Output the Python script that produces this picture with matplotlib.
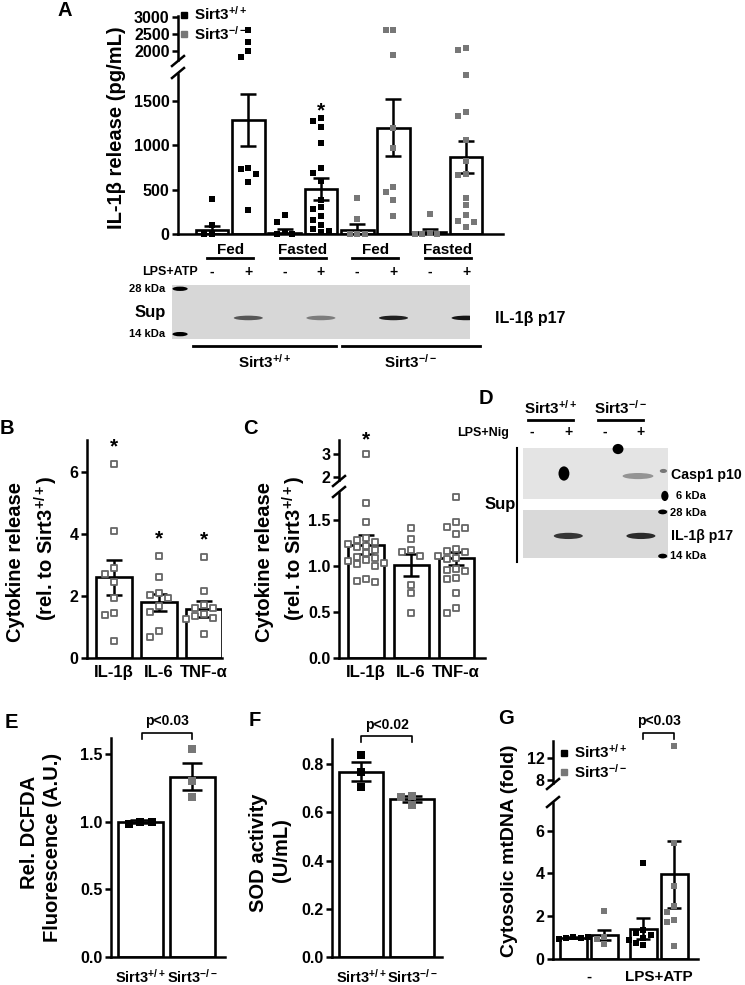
import numpy as np
import matplotlib
matplotlib.use('Agg')
import matplotlib.pyplot as plt
from matplotlib.lines import Line2D
from matplotlib.patches import Ellipse
from matplotlib import transforms

plt.rcParams['font.family'] = ['Liberation Sans', 'DejaVu Sans']
plt.rcParams['font.weight'] = 'bold'
plt.rcParams['axes.labelweight'] = 'bold'
plt.rcParams['mathtext.fontset'] = 'custom'
plt.rcParams['mathtext.rm'] = 'Liberation Sans:bold'
plt.rcParams['mathtext.it'] = 'Liberation Sans:bold'
plt.rcParams['mathtext.bf'] = 'Liberation Sans:bold'
plt.rcParams['mathtext.sf'] = 'Liberation Sans:bold'
plt.rcParams['mathtext.default'] = 'rm'
plt.rcParams['axes.linewidth'] = 1.8

WT = 'Sirt3$^{+/+}$'
KO = 'Sirt3$^{-/-}$'
BLACK = 'black'
GREY = '#777777'

# ---- A: IL-1b release, fed / fasted
a_groups = ['Fed', 'Fasted', 'Fed', 'Fasted']
a_treat = ['-', '+', '-', '+', '-', '+', '-', '+']
a_geno = [WT, WT, WT, WT, KO, KO, KO, KO]
a_mean = [40, 1280, 15, 510, 45, 1195, 25, 865]
a_sem = [45, 290, 40, 125, 67, 320, 28, 180]
a_pts = [
    [390, 100, 0, 0],
    [2600, 2250, 1990, 1820, 740, 735, 675, 590, 265],
    [210, 140, 20, 0, 0],
    [1310, 1270, 1200, 1020, 740, 690, 600, 380, 300, 280, 200, 160, 100, 60, 30, 20],
    [410, 170, 0, 0, 0],
    [2610, 2600, 1890, 1190, 970, 530, 475, 380, 205],
    [220, 10, 0, 0, 0],
    [2080, 2030, 1790, 1370, 1330, 1060, 820, 670, 660, 410, 330, 210, 150, 135, 75],
]
a_band = [0, 0.6, 0, 0.42, 0, 0.85, 0, 0.9]

# ---- B: cytokines, fed
b_cats = ['IL-1β', 'IL-6', 'TNF-α']
b_mean = [2.6, 1.8, 1.58]
b_sem = [0.57, 0.27, 0.25]
b_pts = [
    [6.25, 4.1, 2.89, 2.7, 2.46, 1.93, 1.46, 1.39, 0.56],
    [3.3, 2.62, 2.11, 2.03, 1.95, 1.68, 1.49, 0.88, 0.69],
    [3.25, 2.17, 1.72, 1.62, 1.6, 1.42, 1.35, 1.3, 1.26, 0.77],
]

# ---- C: cytokines, fasted
c_cats = ['IL-1β', 'IL-6', 'TNF-α']
c_mean = [1.23, 1.01, 1.08]
c_sem = [0.1, 0.12, 0.075]
c_pts = [
    [3.0, 1.68, 1.48, 1.3, 1.28, 1.26, 1.24, 1.22, 1.2, 1.17, 1.14, 1.1, 1.08,
     1.06, 1.05, 1.03, 1.02, 1.0, 0.86, 0.84, 0.82],
    [1.41, 1.29, 1.17, 1.15, 1.11, 0.79, 0.71, 0.49],
    [1.75, 1.47, 1.42, 1.41, 1.34, 1.18, 1.16, 1.15, 1.11, 1.09, 1.07, 0.97,
     0.96, 0.94, 0.87, 0.86, 0.7, 0.54, 0.49],
]

# ---- D: western blot lanes
d_treat = ['-', '+', '-', '+']
d_casp1 = [0, 0, 0, 0.35]
d_il1b = [0, 0.75, 0, 0.8]

# ---- E: DCFDA
e_mean = [1.0, 1.335]
e_sem = [0.01, 0.1]
e_pts = [[1.0, 0.985, 1.0], [1.54, 1.3, 1.185]]

# ---- F: SOD activity
f_mean = [0.77, 0.655]
f_sem = [0.04, 0.012]
f_pts = [[0.84, 0.77, 0.705], [0.67, 0.665, 0.63]]

# ---- G: cytosolic mtDNA
g_ticks = ['-', 'LPS+ATP']
g_mean = [1.0, 1.12, 1.42, 3.95]
g_sem = [0.03, 0.22, 0.5, 1.55]
g_pts = [
    [1.05, 1.0, 0.98, 0.95, 1.02],
    [2.25, 1.05, 0.95, 0.72],
    [4.5, 1.35, 1.2, 1.1, 1.0, 0.9, 0.75, 0.65],
    [14.3, 5.4, 3.4, 2.5, 2.2, 1.8, 1.75, 0.6],
]

W, H = 745, 985
TICK = 11.5
YLAB = 14.5
fig = plt.figure(figsize=(W / 100, H / 100), dpi=100)


def fx(x):
    return x / W


def fy(y):
    return 1 - y / H


def px_axes(x0, y0, x1, y1):
    return fig.add_axes([x0 / W, 1 - y1 / H, (x1 - x0) / W, (y1 - y0) / H])


def style(ax, bottom=True):
    ax.spines['top'].set_visible(False)
    ax.spines['right'].set_visible(False)
    ax.spines['bottom'].set_visible(bottom)
    ax.tick_params(axis='y', direction='out', length=4, width=1.8, pad=2, labelsize=TICK)
    ax.tick_params(axis='x', length=0, labelsize=TICK)
    ax.patch.set_alpha(0)
    if not bottom:
        ax.set_xticks([])


def swarm(ypx, step, size=7.0):
    used, offs = [], []
    for y in ypx:
        for k in (0, -1, 1, -2, 2, -3, 3, -4, 4):
            if all(abs(y - u) >= size for u, j in used if j == k):
                break
        used.append((y, k))
        offs.append(k * step)
    return np.array(offs)


def bars(ax, x, mean, sem, width, capsize=6):
    ax.bar(x, mean, width, color='white', edgecolor='black', linewidth=1.9, zorder=2)
    ax.errorbar(x, mean, yerr=sem, fmt='none', ecolor='black', elinewidth=1.8,
                capsize=capsize, capthick=1.8, zorder=3)


def brk(x, y_top, y_bot):
    for y in (y_top + 1, y_bot - 1):
        fig.add_artist(Line2D([fx(x - 6), fx(x + 6)], [fy(y + 5), fy(y - 5)],
                              color='black', lw=1.8))


def bracket(ax, x0, x1, y_line, y_foot, y_text, label):
    tr = transforms.blended_transform_factory(ax.transData, fig.transFigure)
    ax.plot([x0, x0, x1, x1], [fy(y_foot), fy(y_line), fy(y_line), fy(y_foot)],
            color='black', lw=1.2, transform=tr, clip_on=False)
    ax.text((x0 + x1) / 2, fy(y_text), label, transform=tr, ha='center',
            va='center', fontsize=10)


def square_pts(ax, x, vals, color, size=23, hollow=False):
    if hollow:
        ax.scatter(x, vals, marker='s', s=size, facecolor='white', edgecolor=color,
                   linewidths=1.3, zorder=4, clip_on=False)
    else:
        ax.scatter(x, vals, marker='s', s=size, color=color, linewidths=0,
                   zorder=4, clip_on=False)


def legend_at(x, y):
    fig.legend([Line2D([], [], marker='s', ls='none', color=BLACK, markersize=5),
                Line2D([], [], marker='s', ls='none', color=GREY, markersize=5)],
               [WT, KO], loc='upper left', bbox_to_anchor=(fx(x), fy(y)),
               frameon=False, handlelength=0.6, handletextpad=0.35, labelspacing=0.1,
               borderpad=0, borderaxespad=0, fontsize=11)


# ================= Panel A
axA = px_axes(178, 74, 503, 234)
axA_top = px_axes(178, 16, 503, 60)
style(axA)
style(axA_top, bottom=False)
xa = np.arange(len(a_mean))
for ax in (axA, axA_top):
    ax.set_xlim(-0.937, 8.017)
axA.set_ylim(0, 1800)
axA_top.set_ylim(1741, 3020)
axA.set_xticks([])
axA.set_yticks([0, 500, 1000, 1500])
axA_top.set_yticks([2000, 2500, 3000])
bars(axA, xa, a_mean, a_sem, 0.9)
for i, vals in enumerate(a_pts):
    vals = np.array(vals, float)
    ypx = np.where(vals < 1800, vals * 0.0889, 174 + (vals - 1741) * 0.0344)
    off = swarm(ypx, 0.21)
    col = BLACK if a_geno[i] == WT else GREY
    lo = vals < 1800
    square_pts(axA, xa[i] + off[lo], vals[lo], col)
    square_pts(axA_top, xa[i] + off[~lo], vals[~lo], col)
brk(178, 60, 74)
axA.text(3, 1380, '*', ha='center', va='center', fontsize=15)
legend_at(179, 5)

trA = transforms.blended_transform_factory(axA.transData, fig.transFigure)
for g, name in enumerate(a_groups):
    cx = 2 * g + 0.5
    axA.text(cx, fy(250), name, transform=trA, ha='center', va='center', fontsize=11)
    axA.plot([cx - 0.63, cx + 0.63], [fy(258), fy(258)], transform=trA,
             color='black', lw=2, clip_on=False)
for i, t in enumerate(a_treat):
    axA.text(xa[i], fy(272), t, transform=trA, ha='center', va='center', fontsize=10)
fig.text(fx(198), fy(272), 'LPS+ATP', ha='right', va='center', fontsize=9)

# blot under A
blotA = px_axes(172, 285, 470, 339)
blotA.set_xlim((172 - 212) / 36.3, (470 - 212) / 36.3)
blotA.set_ylim(0, 1)
blotA.set_facecolor('#d7d7d7')
blotA.set_xticks([])
blotA.set_yticks([])
for s in blotA.spines.values():
    s.set_visible(False)
for i, v in enumerate(a_band):
    if v > 0:
        blotA.add_patch(Ellipse((xa[i], 0.39), 0.8, 0.085, color='black',
                                alpha=v, lw=0))
for yy in (0.93, 0.09):
    blotA.add_patch(Ellipse((-0.88, yy), 0.42, 0.08, color='black', lw=0, clip_on=False))
fig.text(fx(165), fy(289), '28 kDa', ha='right', va='center', fontsize=8)
fig.text(fx(166), fy(312), 'Sup', ha='right', va='center', fontsize=12)
fig.text(fx(165), fy(334), '14 kDa', ha='right', va='center', fontsize=8)
fig.text(fx(495), fy(318), 'IL-1β p17', ha='left', va='center', fontsize=11.5)
for x0, x1, lab in ((-0.52, 3.42, WT), (3.58, 7.38, KO)):
    axA.plot([x0, x1], [fy(346), fy(346)], transform=trA, color='black', lw=2,
             clip_on=False)
    axA.text((x0 + x1) / 2, fy(362), lab, transform=trA, ha='center', va='center',
             fontsize=11)

fig.text(fx(116), fy(128), 'IL-1β release (pg/mL)', rotation=90, ha='center',
         va='center', fontsize=YLAB)

# ================= Panel B
axB = px_axes(87, 440, 222, 658)
style(axB)
xb = np.arange(len(b_cats))
axB.set_xlim(-0.6, 2.4)
axB.set_ylim(0, 7.03)
axB.set_yticks([0, 2, 4, 6])
bars(axB, xb, b_mean, b_sem, 0.78, capsize=5.5)
for i, vals in enumerate(b_pts):
    off = swarm(np.array(vals) * 31, 0.2, size=7.5)
    square_pts(axB, xb[i] + off, vals, '#666666', size=18, hollow=True)
    axB.text(xb[i], max(vals) + 0.55, '*', ha='center', va='center', fontsize=15)
axB.set_xticks(xb)
axB.set_xticklabels(b_cats, fontsize=12)
axB.tick_params(axis='x', pad=5)
fig.text(fx(16), fy(562), 'Cytokine release', rotation=90, ha='center', va='center',
         fontsize=YLAB)
fig.text(fx(46), fy(548), '(rel. to ' + WT + ')', rotation=90, ha='center',
         va='center', fontsize=YLAB)

# ================= Panel C
axC = px_axes(339, 493, 485, 658)
axC_top = px_axes(339, 440, 485, 480)
style(axC)
style(axC_top, bottom=False)
xc = np.arange(len(c_cats))
for ax in (axC, axC_top):
    ax.set_xlim(-0.6, 2.64)
axC.set_ylim(0, 1.79)
axC_top.set_ylim(1.855, 3.617)
axC.set_yticks([0, 0.5, 1.0, 1.5])
axC.set_yticklabels(['0.0', '0.5', '1.0', '1.5'])
axC_top.set_yticks([2, 3])
bars(axC, xc, c_mean, c_sem, 0.78, capsize=5.5)
for i, vals in enumerate(c_pts):
    vals = np.array(vals)
    lo = vals < 1.8
    off = swarm(np.where(lo, vals * 92, 170 + vals * 22.7), 0.2, size=7.0)
    square_pts(axC, xc[i] + off[lo], vals[lo], '#666666', size=18, hollow=True)
    square_pts(axC_top, xc[i] + off[~lo], vals[~lo], '#666666', size=18, hollow=True)
axC_top.text(0, 3.62, '*', ha='center', va='center', fontsize=15)
brk(339, 480, 493)
axC.set_xticks(xc)
axC.set_xticklabels(c_cats, fontsize=12)
axC.tick_params(axis='x', pad=5)
fig.text(fx(264), fy(562), 'Cytokine release', rotation=90, ha='center', va='center',
         fontsize=YLAB)
fig.text(fx(294), fy(548), '(rel. to ' + WT + ')', rotation=90, ha='center',
         va='center', fontsize=YLAB)

# ================= Panel D (blot)
dl = np.arange(len(d_treat))
d_top = px_axes(523, 448, 668, 499)
d_bot = px_axes(523, 510, 668, 558)
for ax, col in ((d_top, '#e4e4e4'), (d_bot, '#d9d9d9')):
    ax.set_xlim((523 - 532) / 36.3, (668 - 532) / 36.3)
    ax.set_ylim(0, 1)
    ax.set_facecolor(col)
    ax.set_xticks([])
    ax.set_yticks([])
    for s in ax.spines.values():
        s.set_visible(False)
for i in dl:
    if d_casp1[i] > 0:
        d_top.add_patch(Ellipse((dl[i] - 0.08, 0.45), 0.85, 0.12, color='black',
                                alpha=d_casp1[i], lw=0))
    if d_il1b[i] > 0:
        d_bot.add_patch(Ellipse((dl[i], 0.46), 0.8, 0.13, color='black',
                                alpha=d_il1b[i], lw=0))
d_top.add_patch(Ellipse((0.88, 0.5), 0.3, 0.28, color='black', lw=0))
d_top.add_patch(Ellipse((2.37, 0.98), 0.3, 0.2, color='black', lw=0, clip_on=False))
d_top.add_patch(Ellipse((3.66, 0.06), 0.2, 0.2, color='black', lw=0, clip_on=False))
d_top.add_patch(Ellipse((3.62, 0.55), 0.2, 0.08, color='#777777', lw=0, clip_on=False))
d_bot.add_patch(Ellipse((3.6, 0.96), 0.25, 0.1, color='black', lw=0, clip_on=False))
d_bot.add_patch(Ellipse((3.6, 0.04), 0.25, 0.1, color='black', lw=0, clip_on=False))

trD = transforms.blended_transform_factory(d_top.transData, fig.transFigure)
for i, t in enumerate(d_treat):
    d_top.text(dl[i], fy(432), t, transform=trD, ha='center', va='center', fontsize=10)
for x0, x1, lab in ((528, 573, WT), (598, 643, KO)):
    fig.add_artist(Line2D([fx(x0), fx(x1)], [fy(420), fy(420)], color='black', lw=2))
    fig.text(fx((x0 + x1) / 2), fy(408), lab, ha='center', va='center', fontsize=11)
fig.text(fx(509), fy(433), 'LPS+Nig', ha='right', va='center', fontsize=9)
fig.add_artist(Line2D([fx(517), fx(517)], [fy(448), fy(562)], color='black', lw=1.5))
fig.text(fx(500), fy(505), 'Sup', ha='center', va='center', fontsize=12)
fig.text(fx(671), fy(475), 'Casp1 p10', ha='left', va='center', fontsize=10.2)
fig.text(fx(676), fy(496), '6 kDa', ha='left', va='center', fontsize=8)
fig.text(fx(670), fy(513), '28 kDa', ha='left', va='center', fontsize=8)
fig.text(fx(671), fy(536), 'IL-1β p17', ha='left', va='center', fontsize=10.2)
fig.text(fx(670), fy(556), '14 kDa', ha='left', va='center', fontsize=8)

# ================= Panel E
axE = px_axes(111, 738, 225, 957)
style(axE)
xe = np.arange(2)
axE.set_xlim(-0.56, 1.63)
axE.set_ylim(0, 1.62)
axE.set_yticks([0, 0.5, 1.0, 1.5])
axE.set_yticklabels(['0.0', '0.5', '1.0', '1.5'])
bars(axE, xe, e_mean, e_sem, 0.87, capsize=7)
for i, vals in enumerate(e_pts):
    off = swarm(np.array(vals) * 135, 0.22, size=8)
    square_pts(axE, xe[i] + off, vals, BLACK if i == 0 else GREY, size=36)
axE.set_xticks(xe)
axE.set_xticklabels([WT, KO], fontsize=10.5)
axE.tick_params(axis='x', pad=8)
bracket(axE, 0.04, 1.0, 733, 739, 721, 'p<0.03')
fig.text(fx(30), fy(832), 'Rel. DCFDA', rotation=90, ha='center', va='center',
         fontsize=YLAB)
fig.text(fx(53), fy(847), 'Fluorescence (A.U.)', rotation=90, ha='center',
         va='center', fontsize=YLAB)

# ================= Panel F
axF = px_axes(332, 739, 442, 957)
style(axF)
xf = np.arange(2)
axF.set_xlim(-0.57, 1.59)
axF.set_ylim(0, 0.905)
axF.set_yticks([0, 0.2, 0.4, 0.6, 0.8])
axF.set_yticklabels(['0.0', '0.2', '0.4', '0.6', '0.8'])
bars(axF, xf, f_mean, f_sem, 0.86, capsize=7)
for i, vals in enumerate(f_pts):
    off = swarm(np.array(vals) * 241, 0.22, size=8)
    square_pts(axF, xf[i] + off, vals, BLACK if i == 0 else GREY, size=36)
axF.set_xticks(xf)
axF.set_xticklabels([WT, KO], fontsize=10.5)
axF.tick_params(axis='x', pad=8)
bracket(axF, 0.0, 1.0, 736, 742, 725, 'p<0.02')
fig.text(fx(259), fy(853), 'SOD activity', rotation=90, ha='center', va='center',
         fontsize=YLAB)
fig.text(fx(282), fy(850), '(U/mL)', rotation=90, ha='center', va='center',
         fontsize=YLAB)

# ================= Panel G
axG = px_axes(553, 803, 698, 959)
axG_top = px_axes(553, 741, 698, 783)
style(axG)
style(axG_top, bottom=False)
xg = np.array([0, 1, 2.26, 3.26])
for ax in (axG, axG_top):
    ax.set_xlim(-0.66, 4.02)
axG.set_ylim(0, 7.29)
axG_top.set_ylim(7.45, 15.2)
axG.set_yticks([0, 2, 4, 6])
axG_top.set_yticks([8, 12])
bars(axG, xg, g_mean, g_sem, 0.87, capsize=5)
for i, vals in enumerate(g_pts):
    vals = np.array(vals)
    lo = vals < 7.3
    off = swarm(np.where(lo, vals * 21.4, 180 + vals * 5.4), 0.24, size=7)
    col = BLACK if i % 2 == 0 else GREY
    square_pts(axG, xg[i] + off[lo], vals[lo], col, size=25)
    square_pts(axG_top, xg[i] + off[~lo], vals[~lo], col, size=25)
brk(553, 783, 803)
axG.set_xticks([0.5, 2.76])
axG.set_xticklabels(g_ticks, fontsize=11)
axG.tick_params(axis='x', pad=8)
bracket(axG, xg[2], xg[3], 733, 739, 721, 'p<0.03')
legend_at(559, 743)
fig.text(fx(510), fy(851), 'Cytosolic mtDNA (fold)', rotation=90, ha='center',
         va='center', fontsize=14)

# ================= panel letters
for lab, x, y in (('A', 65, 10), ('B', 7, 428), ('C', 250, 428), ('D', 486, 398),
                  ('E', 11, 722), ('F', 255, 721), ('G', 506, 719)):
    fig.text(fx(x), fy(y), lab, ha='center', va='center', fontsize=14.5)

fig.savefig('out.png', dpi=100)
